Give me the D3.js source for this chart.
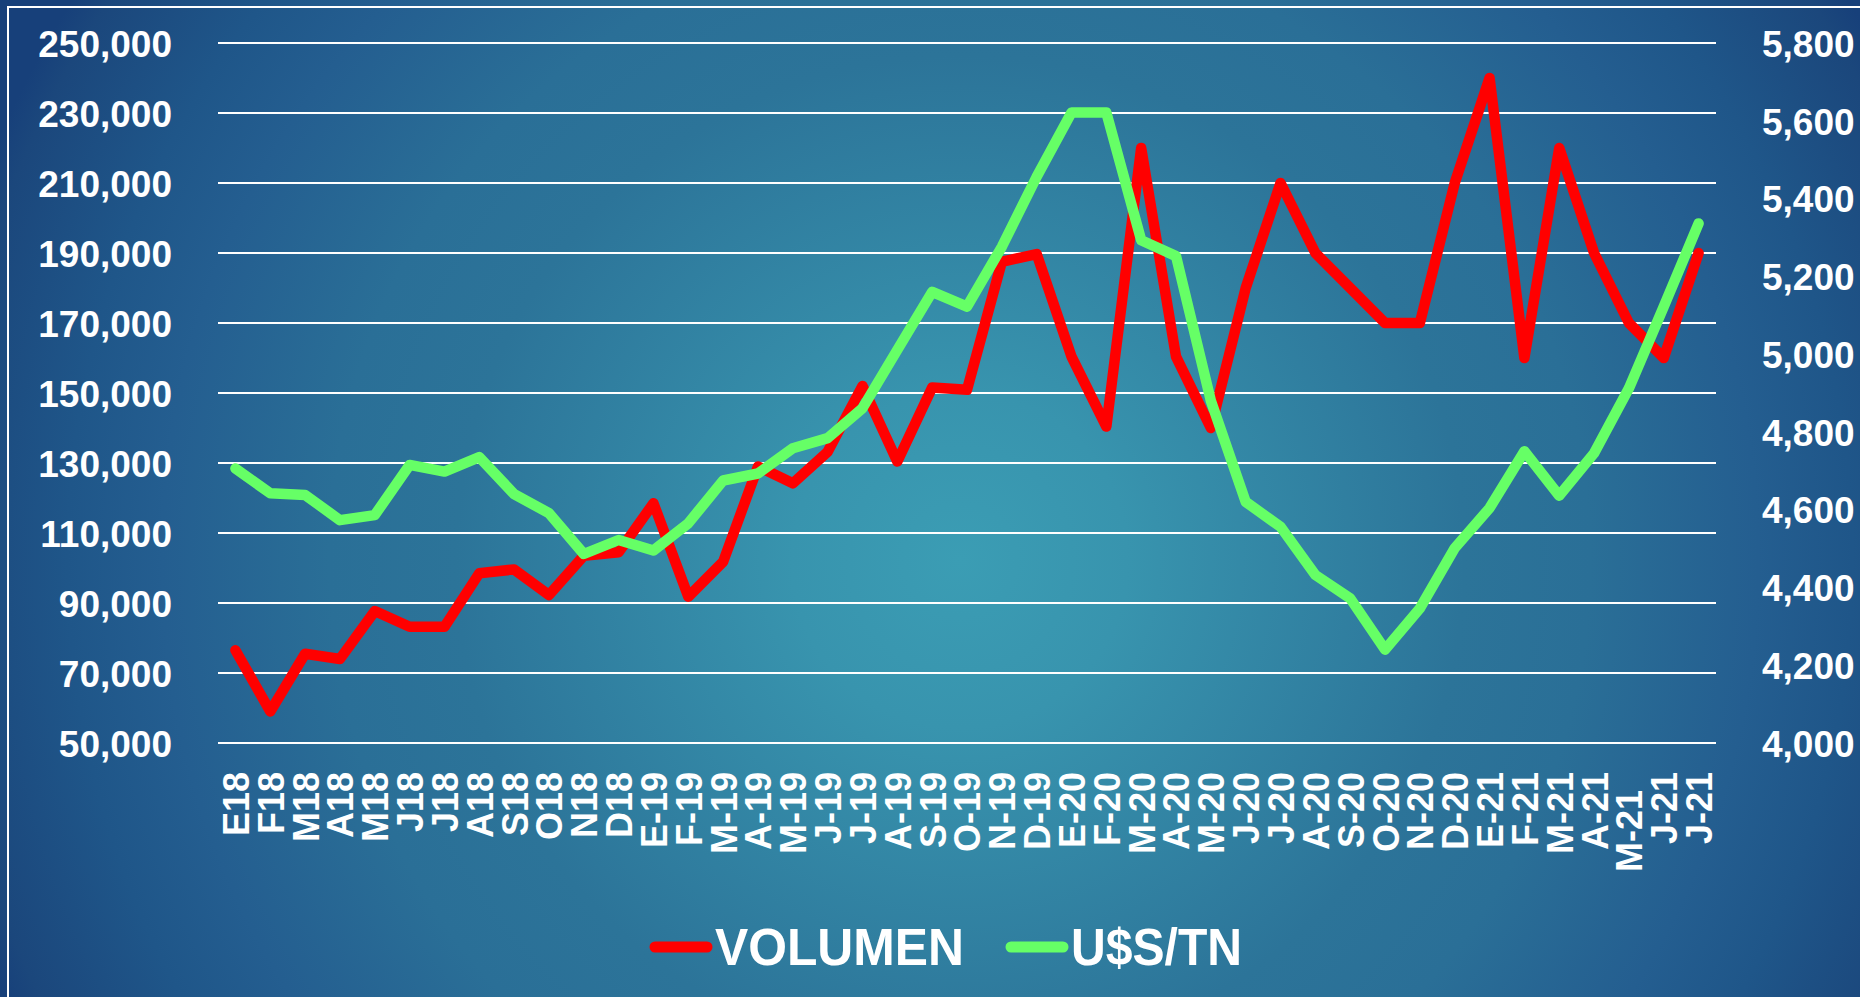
<!DOCTYPE html>
<html>
<head>
<meta charset="utf-8">
<script src="https://cdn.jsdelivr.net/npm/d3@7"></script>
<style>
  html, body { margin: 0; padding: 0; background: #1b477c; overflow: hidden; }
  text { font-family: "Liberation Sans", Arial, sans-serif; font-weight: bold; fill: #fff; }
</style>
</head>
<body>
<div id="chart"></div>
<script>
var meses = ["E18","F18","M18","A18","M18","J18","J18","A18","S18","O18","N18","D18",
  "E-19","F-19","M-19","A-19","M-19","J-19","J-19","A-19","S-19","O-19","N-19","D-19",
  "E-20","F-20","M-20","A-20","M-20","J-20","J-20","A-20","S-20","O-20","N-20","D-20",
  "E-21","F-21","M-21","A-21","M-21","J-21","J-21"];

var volumen = [76500, 59000, 75500, 74000, 87700, 83200, 83200, 98500, 99600, 92300, 103500, 104500,
  118500, 91800, 101800, 129000, 124200, 133200, 152000, 130400, 151600, 150900, 187500, 189700,
  160400, 140400, 220000, 160400, 140000, 180000, 210000, 190000, 180000, 170000, 170000, 210000,
  240000, 160000, 220000, 190000, 170000, 160000, 190000];

var precio = [4706, 4642, 4638, 4573, 4586, 4715, 4698, 4735, 4640, 4591, 4486, 4522,
  4495, 4565, 4675, 4693, 4758, 4784, 4861, 5011, 5160, 5122, 5276, 5456,
  5621, 5621, 5293, 5252, 4880, 4620, 4556, 4432, 4372, 4240, 4346, 4501,
  4604, 4750, 4636, 4745, 4912, 5122, 5336];

var ticksIzq = [50000, 70000, 90000, 110000, 130000, 150000, 170000, 190000, 210000, 230000, 250000];
var ticksDer = [4000, 4200, 4400, 4600, 4800, 5000, 5200, 5400, 5600, 5800];

var series = [
  {name: "VOLUMEN", values: volumen, axis: "left", color: "#ff0000"},
  {name: "U$S/TN", values: precio, axis: "right", color: "#66ff66"}
];

var W = 1860, H = 997;
var dim = {left: 218, right: 1716, top: 43, bottom: 743};

var svg = d3.select("#chart").append("svg").attr("width", W).attr("height", H);

// fondo degradado
var grad = svg.append("defs").append("radialGradient")
  .attr("id", "bg")
  .attr("gradientUnits", "userSpaceOnUse")
  .attr("cx", 960).attr("cy", 560).attr("r", 1050);
[[0, "#3b9db4"], [0.16, "#3894ae"], [0.48, "#2c7499"], [0.6, "#2a6f97"],
 [0.76, "#245e90"], [0.85, "#1f5689"], [0.97, "#1b477c"], [1, "#17407a"]].forEach(function(s) {
  grad.append("stop").attr("offset", s[0]).attr("stop-color", s[1]);
});
svg.append("rect").attr("width", W).attr("height", H).attr("fill", "url(#bg)");

svg.append("rect")
  .attr("x", 8).attr("y", 7)
  .attr("width", W + 20).attr("height", H + 20)
  .attr("fill", "none")
  .attr("stroke", "#fff")
  .attr("stroke-width", 2);

var x = d3.scalePoint().domain(d3.range(meses.length)).range([dim.left, dim.right]).padding(0.5);
var yL = d3.scaleLinear().domain([50000, 250000]).range([dim.bottom, dim.top]);
var yR = d3.scaleLinear().domain([4000, 5800]).range([dim.bottom, dim.top]);

// grilla
svg.append("g").selectAll("line").data(ticksIzq).enter().append("line")
  .attr("x1", dim.left).attr("x2", dim.right)
  .attr("y1", function(d) { return yL(d); })
  .attr("y2", function(d) { return yL(d); })
  .attr("stroke", "#fff")
  .attr("stroke-width", 1.8);

// ejes
var fmt = d3.format(",");
var axL = svg.append("g").attr("transform", "translate(172,0)")
  .call(d3.axisLeft(yL).tickValues(ticksIzq).tickFormat(fmt).tickSize(0).tickPadding(0));
var axR = svg.append("g").attr("transform", "translate(1762,0)")
  .call(d3.axisRight(yR).tickValues(ticksDer).tickFormat(fmt).tickSize(0).tickPadding(0));
[axL, axR].forEach(function(ax) {
  ax.select(".domain").remove();
  ax.selectAll("text")
    .attr("font-size", 37)
    .attr("font-family", null)
    .attr("fill", "#fff")
    .attr("dy", "0.36em");
});

var axX = svg.append("g").attr("transform", "translate(0,772)")
  .call(d3.axisBottom(x).tickFormat(function(i) { return meses[i]; }).tickSize(0).tickPadding(0));
axX.select(".domain").remove();
axX.selectAll("text")
  .attr("font-size", 36)
  .attr("font-family", null)
  .attr("fill", "#fff")
  .attr("text-anchor", "end")
  .attr("transform", "rotate(-90)")
  .attr("x", function(i) { return i === 40 ? -18 : 0; }) // la etiqueta M-21 cae mas abajo en el original
  .attr("y", 0)
  .attr("dy", "0.36em");

// lineas
series.forEach(function(s) {
  var y = s.axis === "left" ? yL : yR;
  var line = d3.line()
    .x(function(d, i) { return x(i); })
    .y(function(d) { return y(d); });
  svg.append("path")
    .datum(s.values)
    .attr("d", line)
    .attr("fill", "none")
    .attr("stroke", s.color)
    .attr("stroke-width", 10.5)
    .attr("stroke-linejoin", "round")
    .attr("stroke-linecap", "round");
});

// leyenda
var legendPos = [{x: 650, w: 249}, {x: 1006, w: 171}];
series.forEach(function(s, i) {
  var g = svg.append("g").attr("transform", "translate(" + legendPos[i].x + ",947)");
  g.append("line")
    .attr("x1", 5).attr("x2", 57)
    .attr("y1", 0).attr("y2", 0)
    .attr("stroke", s.color)
    .attr("stroke-width", 11)
    .attr("stroke-linecap", "round");
  g.append("text")
    .attr("x", 65)
    .attr("y", 18)
    .attr("font-size", 52)
    .attr("textLength", legendPos[i].w)
    .attr("lengthAdjust", "spacingAndGlyphs")
    .text(s.name);
});
</script>
</body>
</html>
